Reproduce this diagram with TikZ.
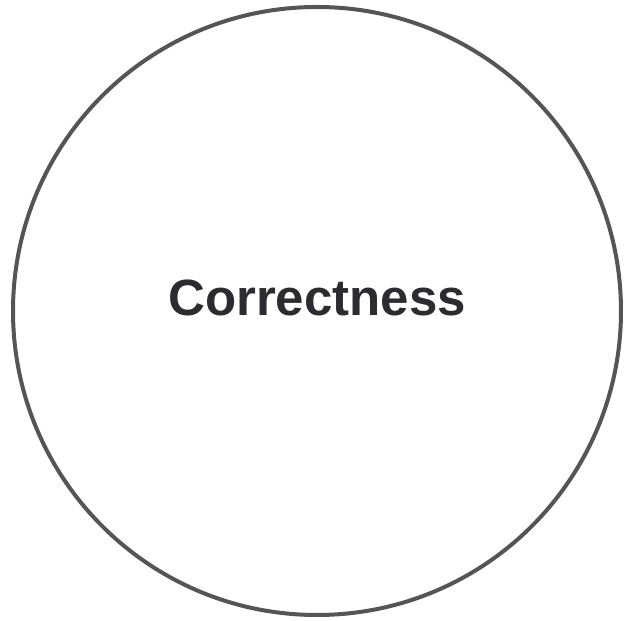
\documentclass[tikz,border=0pt]{standalone}
\usepackage{fontspec}
\setmainfont{Liberation Sans}
\definecolor{ring}{HTML}{555555}
\definecolor{txt}{HTML}{2B2B30}
\begin{document}
\begin{tikzpicture}[x=1pt,y=1pt,
  ringstyle/.style={circle,draw=ring,line width=4pt,minimum size=608pt,inner sep=0pt},
  label/.style={font=\fontsize{51}{60}\selectfont\bfseries,text=txt,anchor=base}]
\useasboundingbox (0,0) rectangle (625,621);
\node[ringstyle] (c) at (317,310) {};
\node[label] (t) at (317,305) {Correctness};
\end{tikzpicture}
\end{document}
